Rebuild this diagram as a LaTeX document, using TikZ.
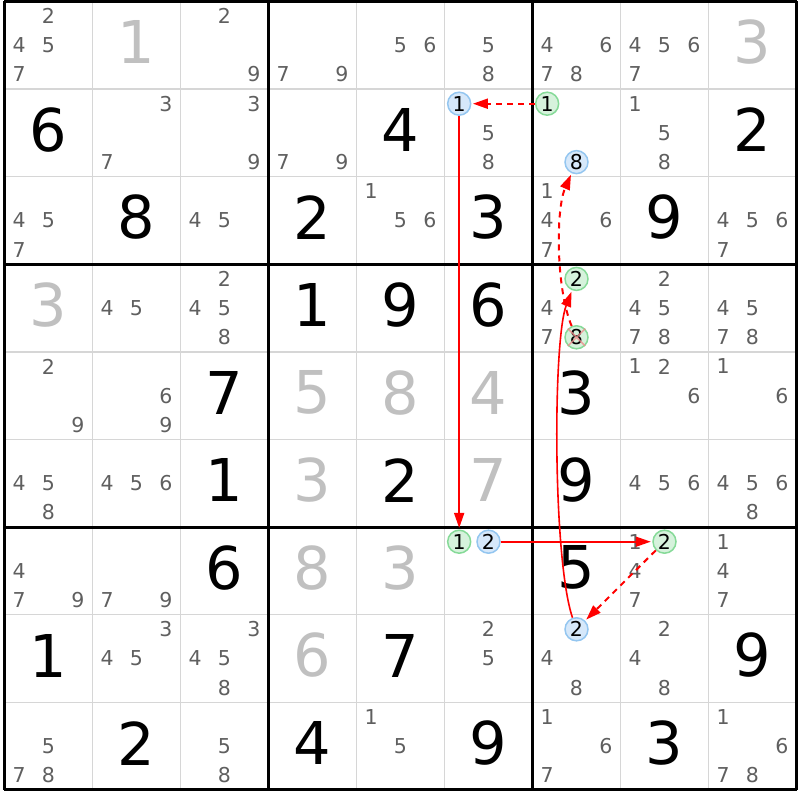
\documentclass[tikz,border=0pt]{standalone}
\usepackage{fontspec}
\setmainfont{DejaVu Sans}
\usepackage{tikz}
\usetikzlibrary{
	arrows.meta
}

\definecolor{candgray}{RGB}{95,95,95}
\definecolor{givengray}{RGB}{192,192,192}
\definecolor{gridgray}{RGB}{214,214,214}
\definecolor{onfill}{RGB}{214,242,220}
\definecolor{ondraw}{RGB}{134,218,152}
\definecolor{offfill}{RGB}{214,232,250}
\definecolor{offdraw}{RGB}{148,198,240}
\definecolor{linkred}{RGB}{255,0,0}
\definecolor{crosspink}{RGB}{240,140,140}

\tikzset{
	cand/.style={text=candgray,inner sep=0pt,font=\fontsize{20.5}{21}\selectfont},
	big/.style={inner sep=0pt,yshift=3pt,font=\fontsize{59}{59}\selectfont},
	given/.style={big,text=givengray},
	solved/.style={big,text=black},
	pencil/.style={circle,minimum size=23pt,inner sep=0pt,line width=1.5pt,font=\fontsize{20.5}{21}\selectfont},
	oncand/.style={pencil,fill=onfill,draw=ondraw},
	offcand/.style={pencil,fill=offfill,draw=offdraw},
	strong/.style={color=linkred,line width=1.6pt,-{Triangle[length=15pt,width=10pt]},shorten >=1.5pt},
	weak/.style={strong,line width=2pt,dash pattern=on 6pt off 5pt}
}

\begin{document}
\begin{tikzpicture}[x=88pt,y=-87.6pt]
	\useasboundingbox (-4.5pt,1.5pt) rectangle (795.5pt,-798.5pt);

	\foreach \i in {0,...,9}
		\draw[gridgray,line width=1.5pt] (\i,0) -- (\i,9) (0,\i) -- (9,\i);
	\foreach \i in {0,3,6,9}
		\draw[black,line width=3pt] (\i,0) -- (\i,9) (0,\i) -- (9,\i);

	\foreach \r/\c/\d in {1/2/1,1/9/3,4/1/3,5/4/5,5/5/8,5/6/4,6/4/3,6/6/7,7/4/8,7/5/3,8/4/6}
		\node[given] at (\c-.5,\r-.5) {\d};
	\foreach \r/\c/\d in {2/1/6,2/5/4,2/9/2,3/2/8,3/4/2,3/6/3,3/8/9,4/4/1,4/5/9,4/6/6,
		5/3/7,5/7/3,6/3/1,6/5/2,6/7/9,7/3/6,7/7/5,8/1/1,8/5/7,8/9/9,9/2/2,9/4/4,9/6/9,9/8/3}
		\node[solved] at (\c-.5,\r-.5) {\d};

	\foreach \r/\c/\l in {
		1/1/{2,4,5,7},1/3/{2,9},1/4/{7,9},1/5/{5,6},1/6/{5,8},1/7/{4,6,7,8},1/8/{4,5,6,7},
		2/2/{3,7},2/3/{3,9},2/4/{7,9},2/6/{5,8},2/8/{1,5,8},
		3/1/{4,5,7},3/3/{4,5},3/5/{1,5,6},3/7/{1,4,6,7},3/9/{4,5,6,7},
		4/2/{4,5},4/3/{2,4,5,8},4/7/{4,7},4/8/{2,4,5,7,8},4/9/{4,5,7,8},
		5/1/{2,9},5/2/{6,9},5/8/{1,2,6},5/9/{1,6},
		6/1/{4,5,8},6/2/{4,5,6},6/8/{4,5,6},6/9/{4,5,6,8},
		7/1/{4,7,9},7/2/{7,9},7/8/{1,4,7},7/9/{1,4,7},
		8/2/{3,4,5},8/3/{3,4,5,8},8/6/{2,5},8/7/{4,8},8/8/{2,4,8},
		9/1/{5,7,8},9/3/{5,8},9/5/{1,5},9/7/{1,6,7},9/9/{1,6,7,8}}
		\foreach \d in \l
			\node[cand] at ({\c-1+(mod(\d-1,3)+.5)/3},{\r-1+(int((\d-1)/3)+.5)/3}) {\d};

	\node[offcand] (r2c6d1) at ({5+1/6},{1+1/6}) {1};
	\node[oncand]  (r2c7d1) at ({6+1/6},{1+1/6}) {1};
	\node[offcand] (r2c7d8) at (6.5,{2-1/6}) {8};
	\node[oncand]  (r4c7d2) at (6.5,{3+1/6}) {2};
	\node[oncand]  (r4c7d8) at (6.5,{4-1/6}) {8};
	\node[oncand]  (r7c6d1) at ({5+1/6},{6+1/6}) {1};
	\node[offcand] (r7c6d2) at (5.5,{6+1/6}) {2};
	\node[oncand]  (r7c8d2) at (7.5,{6+1/6}) {2};
	\node[offcand] (r8c7d2) at (6.5,{7+1/6}) {2};

	\draw[crosspink,line width=1.5pt,opacity=.8]
		(r4c7d8.north west) -- (r4c7d8.south east)
		(r4c7d8.north east) -- (r4c7d8.south west);

	\draw[weak]   (r2c7d1) -- (r2c6d1);
	\draw[strong] (r2c6d1) -- (r7c6d1);
	\draw[strong] (r7c6d2) -- (r7c8d2);
	\draw[weak]   (r7c8d2) -- (r8c7d2);
	\draw[strong] (r8c7d2) .. controls +(-.27,-.79) and +(-.27,.7) .. (r4c7d2);
	\draw[weak]   (r4c7d8) .. controls +(-.23,-.54) and +(-.24,.55) .. (r2c7d8);
\end{tikzpicture}
\end{document}
